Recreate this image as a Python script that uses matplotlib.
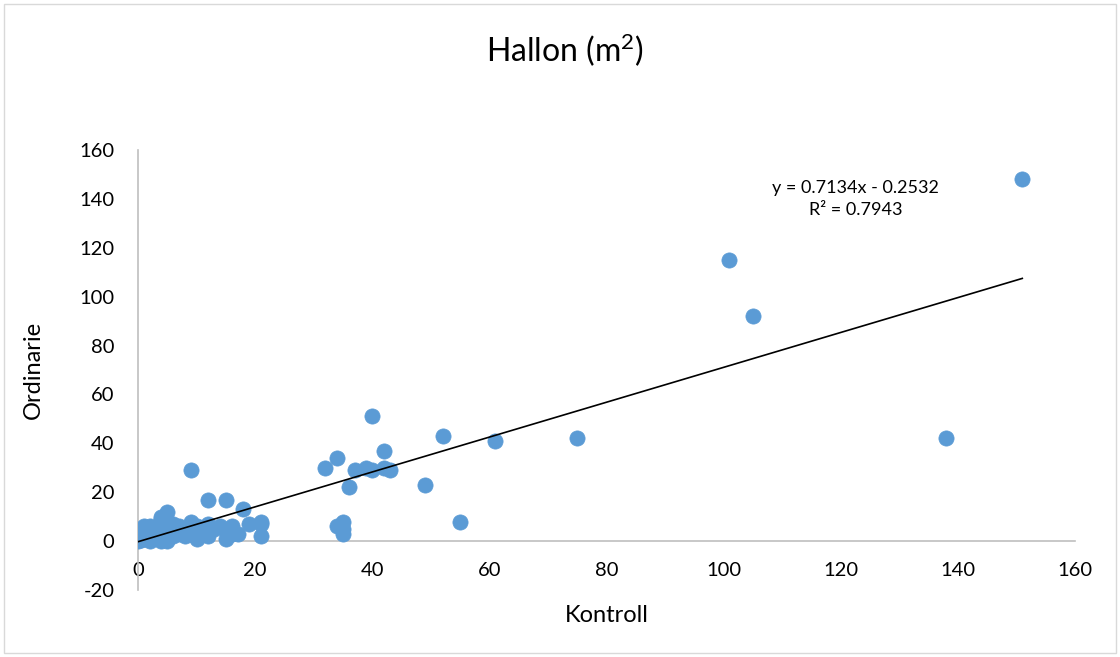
import numpy as np
import matplotlib
from matplotlib import pyplot as plt
from matplotlib.patches import Rectangle

matplotlib.use('Agg')

kontroll = [151, 101, 105, 138, 75, 61, 52, 40, 42, 34, 32, 37, 39, 40, 42, 43,
            36, 49, 55, 34, 35, 35, 35,
            9, 12, 15, 18,
            0, 0, 0, 0.5, 1, 1, 1, 2, 2, 2, 2, 3, 3, 3, 4, 4, 4, 4, 4,
            5, 5, 5, 5, 5, 6, 6, 6, 7, 7, 8, 8, 9, 9, 9, 10, 10, 10, 11,
            12, 12, 12, 13, 14, 15, 15, 16, 16, 17, 19, 21, 21, 21]
ordinarie = [148, 115, 92, 42, 42, 41, 43, 51, 37, 34, 30, 29, 30, 29, 30, 29,
             22, 23, 8, 6, 8, 3, 5,
             29, 17, 17, 13,
             0, 1, 2, 0.5, 6, 3, 1, 6, 4, 1, 0, 3, 5, 2, 10, 9, 6, 2, 0,
             12, 8, 4, 1, 0, 7, 4, 2, 6, 3, 5, 2, 8, 6, 3, 6, 1, 4, 5,
             7, 6, 2, 5, 6, 4, 1, 6, 3, 3, 7, 7, 8, 2]

slope = 0.7134
intercept = -0.2532
r2 = 0.7943

x_ticks = np.arange(0, 161, 20)
y_ticks = np.arange(-20, 161, 20)

plt.rcParams['font.family'] = ['Lato', 'DejaVu Sans']
plt.rcParams['axes.unicode_minus'] = False
plt.rcParams['mathtext.default'] = 'regular'

fig = plt.figure(figsize=(11.2, 6.57), dpi=100)
fig.patches.append(Rectangle((4 / 1120, 4 / 657), 1 - 8 / 1120, 1 - 8 / 657,
                             transform=fig.transFigure, fill=False,
                             edgecolor='#D9D9D9', lw=1))
ax = fig.add_axes([138 / 1120, 1 - 590 / 657, 937 / 1120, 440 / 657])

ax.scatter(kontroll, ordinarie, s=120, color='#5B9BD5', edgecolors='#5B9BD5',
           linewidths=0.5, zorder=3)

trend_x = np.array([0, max(kontroll)])
ax.plot(trend_x, slope * trend_x + intercept, color='black', lw=1.2, zorder=4)

ax.set_xlim(0, 160)
ax.set_ylim(-20, 160)
ax.set_xticks(x_ticks)
ax.set_yticks(y_ticks)

for side in ['top', 'right']:
    ax.spines[side].set_visible(False)
ax.spines['bottom'].set_position(('data', 0))
for side in ['left', 'bottom']:
    ax.spines[side].set_color('#BFBFBF')
    ax.spines[side].set_linewidth(1.2)
ax.tick_params(axis='both', length=0, labelsize=14.5, colors='#000000')
ax.tick_params(axis='x', pad=15)
ax.tick_params(axis='y', pad=17)

ax.set_xlabel('Kontroll', fontsize=17)
ax.set_ylabel('Ordinarie', fontsize=17)
ax.xaxis.set_label_coords(0.5, -0.035)
ax.yaxis.set_label_coords(-0.1, 0.5)

sign = '-' if intercept < 0 else '+'
ax.text(122.5, 140, 'y = %.4fx %s %.4f\nR² = %.4f' % (slope, sign, abs(intercept), r2),
        ha='center', va='center', multialignment='center', fontsize=13,
        linespacing=1.45)

fig.text(565 / 1120, 1 - 50 / 657, 'Hallon (m$^{2}$)', ha='center', va='center', fontsize=23)

fig.savefig('out.png', dpi=100)
